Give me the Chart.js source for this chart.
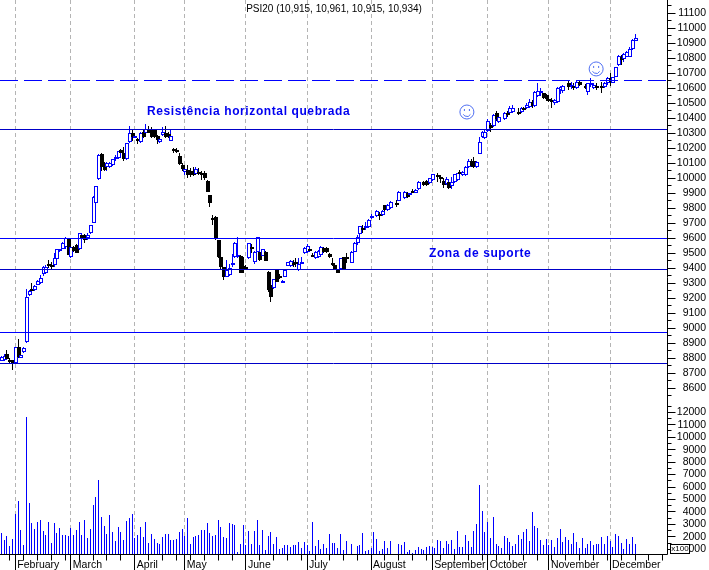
<!DOCTYPE html>
<html>
<head>
<meta charset="utf-8">
<style>
  html, body { margin: 0; padding: 0; background: #fff; }
  canvas { display: block; }
</style>
<script src="https://cdn.jsdelivr.net/npm/chart.js@4/dist/chart.umd.min.js"></script>
</head>
<body>
<canvas id="chart" width="709" height="570"></canvas>
<script>
const monthNames = ['February', 'March', 'April', 'May', 'June', 'July', 'August', 'September', 'October', 'November', 'December'];
const monthStarts = [5, 25, 48, 66, 88, 110, 133, 155, 175, 197, 219];

// Values, one entry per trading day (null where no bar could be seen)
const opens = [
  8783, 8787, 8827, 8787, 8787, 8765, 8871, 8800, 8843, 8909,
  9220, 9260, 9254, 9287, 9298, 9358, 9365, 9427, 9418, 9418,
  9460, 9516, 9529, 9538, 9598, 9476, 9543, 9554, 9525, 9620,
  9620, 9598, 9631, 9703, 9831, 9991, 10160, 10098, 10076, 10072,
  10087, 10125, 10131, 10187, 10170, 10125, 10243, 10303, 10271, 10258,
  10243, 10309, 10303, 10325, 10325, 10320, 10280, 10243, 10287, 10303,
  10294, 10249, 10191, 10187, 10147, 10087, 10043, 10054, 10049, 10050,
  10027, 10043, 10036, 10031, 9983, 9887, 9734, 9743, 9587, 9476,
  9405, 9343, 9354, 9418, 9476, 9476, 9480, 9416, 9409, 9465,
  9543, 9443, 9509, 9509, 9483, 9509, 9376, 9287, 9265, 9387,
  9347, 9303, 9343, 9416, 9416, 9436, 9443, 9387, 9431, 9503,
  9509, 9527, 9489, 9465, 9471, 9487, 9531, 9531, 9494, 9431,
  9420, 9391, 9391, 9471, 9476, null, 9436, 9509, 9569, 9625,
  9670, 9665, 9676, 9731, null, 9747, 9758, 9754, 9820, 9787,
  9798, null, 9831, 9849, null, 9865, 9898, 9887, 9916, 9903,
  9925, null, 9976, 9980, 9965, 9987, null, 10020, 10009, 9982,
  9960, 9976, 9945, 9976, 9987, 10042, 10020, 10020, 10076, 10113,
  10113, 10076, 10160, 10271, 10264, 10316, 10353, 10347, 10431, 10376,
  null, 10391, 10436, 10436, 10442, null, 10442, 10442, 10464, 10464,
  10476, 10509, 10480, 10547, 10565, 10565, 10553, 10527, 10520, 10502,
  10509, 10587, 10582, null, 10631, 10604, 10613, 10598, 10642, null,
  10613, 10576, 10620, 10598, 10613, null, 10613, 10604, 10631, 10664,
  10636, 10671, 10753, 10804, 10791, 10809, 10809, 10858, 10915
];
const highs = [
  8814, 8827, 8854, 8798, 8787, 8876, 8925, 8825, 8876, 9260,
  9256, 9298, 9287, 9320, 9354, 9412, 9420, 9454, 9440, 9498,
  9530, 9530, 9575, 9605, 9600, 9545, 9545, 9560, 9631, 9625,
  9630, 9635, 9690, 9880, 9947, 10160, 10165, 10105, 10110, 10110,
  10128, 10155, 10180, 10195, 10210, 10231, 10347, 10320, 10285, 10270,
  10310, 10325, 10360, 10345, 10340, 10330, 10290, 10265, 10343, 10345,
  10310, 10325, 10200, 10197, 10165, 10100, 10075, 10085, 10065, 10075,
  10075, 10065, 10050, 10050, 9985, 9887, 9755, 9750, 9590, 9512,
  9405, 9452, 9430, 9494, 9575, 9605, 9485, 9471, 9420, 9570,
  9558, 9512, 9605, 9514, 9530, 9515, 9380, 9298, 9325, 9387,
  9360, 9320, 9387, 9440, 9455, 9454, 9465, 9465, 9471, 9540,
  9558, 9543, 9498, 9512, 9518, 9545, 9540, 9538, 9498, 9465,
  9425, 9393, 9470, 9475, 9498, null, 9512, 9572, 9620, 9682,
  9687, 9709, 9725, 9760, null, 9785, 9776, 9785, 9822, 9825,
  9850, null, 9854, 9912, null, 9912, 9905, 9903, 9925, 9925,
  9980, null, 9980, 9990, 10000, 10030, null, 10031, 10020, 9998,
  10005, 9987, 10009, 10030, 10035, 10053, 10047, 10078, 10127, 10124,
  10142, 10116, 10276, 10316, 10320, 10391, 10369, 10427, 10447, 10420,
  null, 10442, 10449, 10480, 10487, null, 10464, 10471, 10476, 10498,
  10525, 10520, 10582, 10631, 10598, 10569, 10558, 10546, 10531, 10525,
  10609, 10613, 10620, null, 10647, 10642, 10631, 10647, 10647, null,
  10627, 10636, 10664, 10631, 10636, null, 10642, 10642, 10671, 10702,
  10676, 10742, 10820, 10820, 10831, 10849, 10871, 10925, 10961
];
const lows = [
  8778, 8783, 8796, 8765, 8720, 8765, 8798, 8798, 8832, 8898,
  9215, 9245, 9250, 9285, 9295, 9350, 9360, 9398, 9390, 9410,
  9455, 9505, 9525, 9530, 9485, 9470, 9510, 9500, 9520, 9590,
  9565, 9590, 9625, 9700, 9820, 9985, 10050, 10045, 10050, 10065,
  10083, 10115, 10125, 10160, 10115, 10120, 10236, 10250, 10265, 10225,
  10235, 10270, 10295, 10298, 10270, 10270, 10227, 10235, 10280, 10270,
  10270, 10245, 10170, 10165, 10090, 10050, 10020, 9998, 10010, 10015,
  10020, 10020, 9985, 9985, 9905, 9805, 9687, 9590, 9470, 9390,
  9320, 9340, 9345, 9410, 9470, 9470, 9365, 9365, 9390, 9460,
  9500, 9425, 9505, 9450, 9480, 9445, 9243, 9176, 9260, 9305,
  9325, 9298, 9340, 9416, 9410, 9410, 9410, 9383, 9431, 9495,
  9500, 9509, 9471, 9460, 9465, 9483, 9500, 9500, 9468, 9413,
  9385, 9367, 9385, 9385, 9431, null, 9432, 9505, 9556, 9600,
  9636, 9654, 9670, 9725, null, 9740, 9720, 9750, 9780, 9783,
  9795, null, 9809, 9845, null, 9860, 9865, 9880, 9898, 9898,
  9920, null, 9950, 9948, 9960, 9980, null, 9976, 9969, 9931,
  9953, 9925, 9927, 9969, 9982, 10020, 10016, 10016, 10064, 10071,
  10064, 10068, 10160, 10265, 10258, 10309, 10309, 10342, 10382, 10369,
  null, 10387, 10405, 10427, 10431, null, 10420, 10436, 10442, 10458,
  10469, 10469, 10476, 10542, 10547, 10524, 10516, 10509, 10464, 10487,
  10502, 10560, 10565, null, 10587, 10591, 10587, 10591, 10613, null,
  10591, 10553, 10604, 10591, 10587, null, 10569, 10598, 10620, 10613,
  10631, 10671, 10747, 10753, 10776, 10805, 10809, 10853, 10915
];
const closes = [
  8805, 8814, 8796, 8774, 8769, 8876, 8805, 8820, 8865, 9209,
  9249, 9249, 9280, 9316, 9332, 9409, 9409, 9418, 9414, 9465,
  9525, 9525, 9569, 9598, 9487, 9543, 9516, 9503, 9631, 9598,
  9587, 9620, 9687, 9871, 9947, 10154, 10076, 10054, 10103, 10103,
  10125, 10143, 10178, 10165, 10125, 10231, 10298, 10271, 10280, 10249,
  10303, 10276, 10325, 10303, 10276, 10276, 10254, 10258, 10309, 10276,
  10276, 10280, 10183, 10178, 10094, 10058, 10058, 10020, 10020, 10022,
  10058, 10027, 10020, 9998, 9909, 9831, 9729, 9598, 9476, 9409,
  9343, 9387, 9398, 9432, 9569, 9487, 9369, 9405, 9405, 9565,
  9531, 9509, 9605, 9454, 9527, 9449, 9254, 9209, 9325, 9309,
  9336, 9316, 9387, 9440, 9449, 9427, 9438, 9427, 9440, 9536,
  9547, 9520, 9485, 9509, 9514, 9538, 9505, 9505, 9471, 9429,
  9387, 9369, 9465, 9391, 9474, null, 9509, 9569, 9605, 9680,
  9660, 9680, 9720, 9747, null, 9780, 9749, 9780, 9787, 9820,
  9843, null, 9820, 9909, null, 9909, 9871, 9898, 9909, 9920,
  9976, null, 9954, 9954, 9998, 10027, null, 10005, 9998, 9953,
  9991, 9931, 9976, 10027, 10031, 10036, 10042, 10076, 10116, 10080,
  10076, 10104, 10242, 10304, 10309, 10382, 10331, 10420, 10391, 10409,
  null, 10436, 10420, 10464, 10464, null, 10431, 10464, 10453, 10487,
  10509, 10480, 10576, 10582, 10582, 10531, 10525, 10522, 10516, 10520,
  10598, 10604, 10613, null, 10609, 10620, 10598, 10642, 10620, null,
  10604, 10631, 10631, 10620, 10604, null, 10598, 10636, 10664, 10642,
  10671, 10738, 10816, 10787, 10824, 10842, 10858, 10920, 10934
];
const volumes = [
  2280, 1750, 2070, 1260, 1800, 3840, 4880, 2550, 1340, 11630,
  4720, 3110, 2630, 3190, 3350, 2470, 2150, 3190, 1500, 3110,
  2310, 2710, 2150, 2150, 2070, 2710, 2150, 2550, 3190, 2150,
  3350, 1910, 2630, 4560, 5200, 6570, 3600, 2870, 2230, 3760,
  2390, 1670, 2790, 2390, 1750, 3270, 3510, 3840, 1910, 2150,
  2790, 1990, 3190, 1500, 2230, 1830, 1500, 1420, 1990, 2230,
  2230, 1750, 1750, 1830, 2390, 2630, 2070, 3510, 1420, 1990,
  2070, 2150, 2550, 2550, 3110, 2310, 2070, 2150, 3350, 2790,
  1990, 1910, 3090, 3030, 2950, 780, 1420, 2950, 1340, 2470,
  1420, 2470, 3350, 1340, 2550, 940, 2070, 2390, 1420, 1990,
  1020, 1100, 1340, 1340, 1180, 1340, 1340, 1590, 1100, 1590,
  1340, 860, 3190, 1260, 1750, 1020, 1420, 1100, 2230, 1500,
  1500, 1100, 2230, 940, 1670, null, 1420, null, 1260, 1340,
  2310, 860, 940, 1100, 2390, 1830, 860, 1020, 1670, 1100,
  1670, null, null, 1420, 1340, 1590, 780, 940, 700, 940,
  1180, 1020, 940, 1180, 1260, 1180, 1100, 1750, 1670, 1100,
  1670, 1420, 1750, 1020, 2470, 1180, 1180, 2150, 1670, 1180,
  2470, 3030, 6170, 4080, 2390, 3190, 1910, 3600, 1420, 1260,
  1100, 2070, 1910, 1590, 1260, 1420, 2150, 1830, 2390, 2630,
  1670, 4000, 2870, 2710, 1750, 1340, 1830, 1340, 1750, 1180,
  1910, 2630, 1590, 1990, 1750, 1420, 2310, 1590, 1100, 1910,
  1100, 1420, 1670, 1340, 1420, 1420, 1990, 1420, 2070, 1670,
  1180, 2230, 2070, 1500, 1020, 1830, 1420, 1990, 1420
];
const volumeTicks = [1000, 1500, 2000, 2500, 3000, 3500, 4000, 4500, 5000, 5500, 6000, 6500, 7000, 7500, 8000, 8500, 9000, 9500, 10000, 10500, 11000, 11500, 12000, 12500];

// Horizontal levels drawn by hand on the original chart
const solidLevels = [10325, 9598, 9391, 8971, 8765];
const levelColors = ['#0000c8', '#0000ff', '#0000c8', '#0000ff', '#0000c8'];
const dashedLevel = 10647;
const smileys = [[167.5, 10440], [214, 10727]];

const SLOTS = 240;
const BLUE = '#0000ff';
const slots = [];
for (let i = 0; i < SLOTS; i++) slots.push(i);

const isUp = i => closes[i] >= opens[i];
const bodyData = slots.map(i => opens[i] == null ? null : [opens[i], closes[i]]);
const wickData = slots.map(i => highs[i] == null ? null : [lows[i], highs[i]]);
const volumeData = slots.map(i => volumes[i] == null ? null : volumes[i]);

function drawSmiley(ctx, x, y) {
    ctx.save();
    ctx.strokeStyle = '#4f6ff2';
    ctx.fillStyle = '#4f6ff2';
    ctx.lineWidth = 1;
    ctx.beginPath();
    ctx.arc(x, y, 7, 0, Math.PI * 2);
    ctx.stroke();
    ctx.beginPath();
    ctx.arc(x, y + 0.5, 4, 0.15 * Math.PI, 0.85 * Math.PI);
    ctx.stroke();
    ctx.fillRect(x - 3, y - 3, 1, 2);
    ctx.fillRect(x + 2, y - 3, 1, 2);
    ctx.restore();
}

const chartDecor = {
    id: 'chartDecor',
    // snap bars to whole pixels so they stay crisp like the original
    beforeDatasetsDraw(chart) {
        chart.getSortedVisibleDatasetMetas().forEach(meta => {
            const isBody = meta.label === 'body';
            meta.data.forEach(el => {
                if (el.skip || isNaN(el.x) || isNaN(el.y)) return;
                el.x = isBody ? Math.floor(el.x) + 1 : Math.floor(el.x) + 0.5;
                el.y = Math.round(el.y);
                el.base = Math.round(el.base);
                if (isBody && Math.abs(el.y - el.base) < 2) el.base = el.y + 2;
            });
        });
    },
    afterDatasetsDraw(chart) {
        const { ctx, chartArea, scales } = chart;
        ctx.save();
        ctx.lineWidth = 1;
        solidLevels.forEach((v, i) => {
            const y = Math.floor(scales.price.getPixelForValue(v)) + 0.5;
            ctx.strokeStyle = levelColors[i];
            ctx.beginPath();
            ctx.moveTo(chartArea.left, y);
            ctx.lineTo(chartArea.right, y);
            ctx.stroke();
        });
        const dy = Math.floor(scales.price.getPixelForValue(dashedLevel)) + 0.5;
        ctx.strokeStyle = BLUE;
        ctx.setLineDash([18, 6]);
        ctx.beginPath();
        ctx.moveTo(chartArea.left, dy);
        ctx.lineTo(chartArea.right, dy);
        ctx.stroke();
        ctx.restore();
    },
    afterDraw(chart) {
        const { ctx, chartArea, scales } = chart;
        const right = chartArea.right + 0.5;
        const bottom = chartArea.bottom + 0.5;
        ctx.save();
        ctx.strokeStyle = '#000';
        ctx.lineWidth = 1;
        ctx.beginPath();
        // axis lines
        ctx.moveTo(right, 0);
        ctx.lineTo(right, bottom);
        ctx.moveTo(0, bottom);
        ctx.lineTo(right, bottom);
        // price and volume tick marks
        scales.price.ticks.forEach(t => {
            const y = Math.floor(scales.price.getPixelForValue(t.value)) + 0.5;
            ctx.moveTo(right, y);
            ctx.lineTo(right + (t.value % 100 === 0 ? 8 : 4), y);
        });
        scales.volume.ticks.forEach(t => {
            const y = Math.floor(scales.volume.getPixelForValue(t.value)) + 0.5;
            ctx.moveTo(right, y);
            ctx.lineTo(right + (t.value % 1000 === 0 ? 8 : 4), y);
        });
        // weekly and monthly ticks under the volume panel
        for (let i = 3; i < SLOTS; i += 5) {
            const x = Math.floor(scales.x.getPixelForValue(i)) + 0.5;
            ctx.moveTo(x, bottom);
            ctx.lineTo(x, bottom + 6);
        }
        monthStarts.forEach(i => {
            const x = Math.floor(scales.x.getPixelForValue(i)) + 0.5;
            ctx.moveTo(x, bottom);
            ctx.lineTo(x, 570);
        });
        ctx.stroke();

        // x100 box sits over the bottom volume label
        ctx.fillStyle = '#fff';
        ctx.fillRect(670.5, 544.5, 19, 9);
        ctx.strokeRect(670.5, 544.5, 19, 9);
        ctx.fillStyle = '#000';
        ctx.font = '8px "Liberation Sans"';
        ctx.textAlign = 'center';
        ctx.textBaseline = 'middle';
        ctx.fillText('x100', 680, 549);

        // title and hand written notes
        ctx.font = '10px "Liberation Sans"';
        ctx.fillText('PSI20 (10,915, 10,961, 10,915, 10,934)', 334, 9);
        ctx.fillStyle = '#0000f0';
        ctx.font = 'bold 12px "Liberation Sans"';
        ctx.letterSpacing = '0.6px';
        ctx.textAlign = 'left';
        ctx.fillText('Resistência horizontal quebrada', 147, 112);
        ctx.fillText('Zona de suporte', 429, 254);
        ctx.restore();

        smileys.forEach(s => {
            drawSmiley(ctx, scales.x.getPixelForValue(s[0]), scales.price.getPixelForValue(s[1]));
        });
    }
};

const axisFont = { family: '"Liberation Sans"', size: 10.5 };
const fitY = s => { s.width = 39; s.paddingTop = 0; s.paddingBottom = 0; };

new Chart(document.getElementById('chart'), {
    type: 'bar',
    data: {
        labels: slots,
        datasets: [
            {
                label: 'wick',
                yAxisID: 'price',
                data: wickData,
                order: 2,
                grouped: false,
                barThickness: 1,
                inflateAmount: 0,
                backgroundColor: ctx => isUp(ctx.dataIndex) ? BLUE : '#000'
            },
            {
                label: 'body',
                yAxisID: 'price',
                data: bodyData,
                order: 1,
                grouped: false,
                barThickness: 4,
                inflateAmount: 0,
                borderWidth: 1,
                borderSkipped: false,
                backgroundColor: ctx => isUp(ctx.dataIndex) ? '#fff' : '#000',
                borderColor: ctx => isUp(ctx.dataIndex) ? BLUE : '#000'
            },
            {
                label: 'volume',
                yAxisID: 'volume',
                data: volumeData,
                order: 3,
                grouped: false,
                barThickness: 1,
                inflateAmount: 0,
                backgroundColor: BLUE
            }
        ]
    },
    options: {
        responsive: false,
        animation: false,
        layout: { padding: { right: 3 } },
        plugins: { legend: { display: false }, tooltip: { enabled: false } },
        scales: {
            x: {
                type: 'category',
                offset: true,
                afterFit: s => { s.height = 16; s.paddingLeft = 0; s.paddingRight = 0; },
                afterBuildTicks: s => { s.ticks = monthStarts.map(v => ({ value: v })); },
                grid: { offset: false, drawTicks: false, color: '#b4b4b4' },
                border: { display: false, dash: [4, 3] },
                ticks: {
                    autoSkip: false,
                    maxRotation: 0,
                    align: 'start',
                    padding: 5,
                    labelOffset: 2,
                    color: '#000',
                    font: axisFont,
                    callback: v => monthNames[monthStarts.indexOf(v)]
                }
            },
            price: {
                type: 'linear',
                position: 'right',
                stack: 'panes',
                stackWeight: 400,
                min: 8520,
                max: 11186.67,
                afterFit: fitY,
                grid: { display: false },
                border: { display: false },
                ticks: {
                    stepSize: 50,
                    includeBounds: false,
                    autoSkip: false,
                    crossAlign: 'far',
                    color: '#000',
                    font: axisFont,
                    callback: v => v % 100 === 0 ? String(v) : ''
                }
            },
            volume: {
                type: 'linear',
                position: 'right',
                stack: 'panes',
                stackWeight: 154,
                min: 620,
                max: 12990,
                afterFit: fitY,
                afterBuildTicks: s => { s.ticks = volumeTicks.map(v => ({ value: v })); },
                grid: { display: false },
                border: { display: false },
                ticks: {
                    autoSkip: false,
                    crossAlign: 'far',
                    color: '#000',
                    font: axisFont,
                    callback: v => v % 1000 === 0 ? String(v) : ''
                }
            }
        }
    },
    plugins: [chartDecor]
});
</script>
</body>
</html>
